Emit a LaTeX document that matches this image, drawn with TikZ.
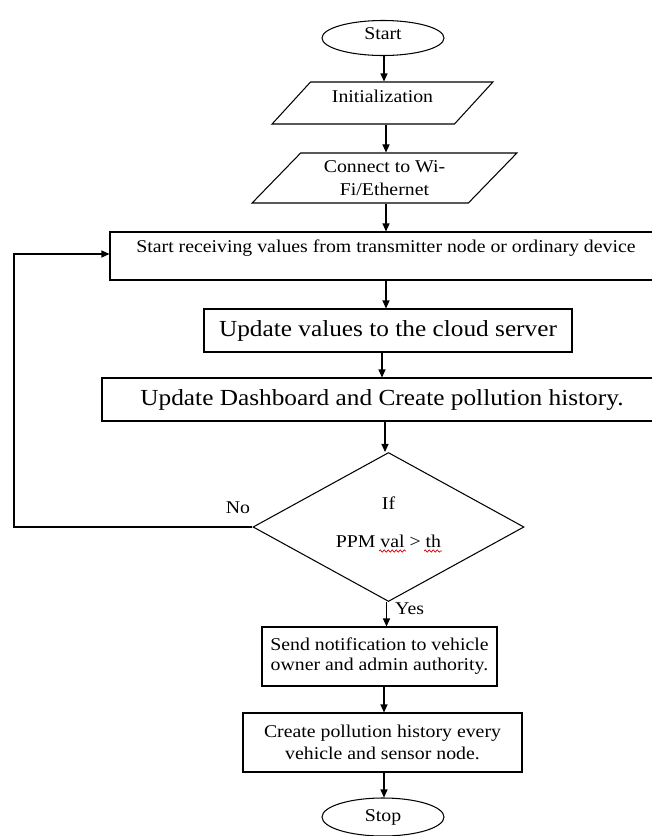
\documentclass[tikz,border=0pt]{standalone}
\usepackage{fontspec}
\setmainfont{Liberation Serif}[FakeStretch=1.1]
\usetikzlibrary{shapes.geometric,arrows.meta,decorations.pathmorphing}
\newcommand{\fsm}{\fontsize{18}{21}\selectfont}
\newcommand{\flg}{\fontsize{23}{27}\selectfont}
\tikzset{
  base/.style={draw, line width=1.05pt, inner sep=0pt},
  term/.style={base, ellipse, minimum width=122pt, font=\fsm},
  io/.style={base, trapezium, trapezium left angle=45, trapezium right angle=135, trapezium stretches=true, font=\fsm, align=center},
  proc/.style={base, rectangle, align=center},
  decis/.style={base, diamond, aspect=1.82, minimum width=271pt, minimum height=149pt, font=\fsm, align=center},
  arr/.style={line width=1.05pt, -{Triangle[length=8pt,width=7pt]}},
  lbl/.style={inner sep=0pt, font=\fsm},
  squig/.style={red!85!black, line width=0.7pt, decorate, decoration={snake, amplitude=1.1pt, segment length=4pt}}
}
\begin{document}
\begin{tikzpicture}[x=1pt,y=-1pt]
\useasboundingbox (0,0) rectangle (652,836);
\clip (0,0) rectangle (652,836);
\fill[white] (0,0) rectangle (652,836);

\node[term, minimum height=35pt, text height=13pt, text depth=11pt] (start) at (383,38) {Start};
\node[io, minimum width=221pt, minimum height=42pt, text height=13pt, text depth=14pt] (init) at (382.5,103) {Initialization};
\node[io, minimum width=265pt, minimum height=50pt, font=\fontsize{18}{23}\selectfont] (conn) at (384.5,178) {Connect to Wi-\\Fi/Ethernet};
\node[proc, font=\fsm, minimum width=552pt, minimum height=48pt, text height=13pt, text depth=21pt] (recv) at (386,256) {Start receiving values from transmitter node or ordinary device};
\node[proc, font=\flg, minimum width=368pt, minimum height=43pt] (upd) at (388,330.5) {Update values to the cloud server};
\node[proc, font=\flg, minimum width=560pt, minimum height=43pt] (dash) at (382,399.5) {Update Dashboard and Create pollution history.};
\node[decis, text depth=9pt] (dec) at (388.5,527) {If\\[17pt]PPM val > th};
\node[proc, font=\fontsize{18}{20}\selectfont, minimum width=235pt, minimum height=59pt] (send) at (379.5,656.5) {Send notification to vehicle\\owner and admin authority.};
\node[proc, font=\fontsize{18}{22}\selectfont, minimum width=279pt, minimum height=59pt] (create) at (382.5,742.5) {Create pollution history every\\vehicle and sensor node.};
\node[term, minimum height=38pt] (stop) at (383,817) {Stop};

\node[lbl] (nolab) at (238,508) {No};
\node[lbl, anchor=west] (yeslab) at (395,609) {Yes};

\draw[squig] (379,551) -- (406,551);
\draw[squig] (424,551) -- (442,551);

\draw[arr] ([xshift=1pt]start.south) -- ([xshift=1pt]start.south |- init.north);
\draw[arr] ([xshift=3.5pt]init.south) -- ([xshift=3.5pt]init.south |- conn.north);
\draw[arr] ([xshift=1.5pt]conn.south) -- ([xshift=1.5pt]conn.south |- recv.north);
\draw[arr] (recv.south) -- (recv.south |- upd.north);
\draw[arr] ([xshift=-6pt]upd.south) -- ([xshift=-6pt]upd.south |- dash.north);
\draw[arr] ([xshift=3pt]dash.south) -- ([xshift=3pt]dash.south |- dec.north);
\draw[arr] ([xshift=-2pt]dec.south) -- ([xshift=-2pt]dec.south |- send.north);
\draw[arr] ([xshift=4.5pt]send.south) -- ([xshift=4.5pt]send.south |- create.north);
\draw[arr] ([xshift=1.5pt]create.south) -- ([xshift=1.5pt]create.south |- stop.north);

\coordinate (loopc) at (14,254);
\draw[arr] (dec.west) -| (loopc) -- ([yshift=2pt]recv.west);
\end{tikzpicture}
\end{document}
